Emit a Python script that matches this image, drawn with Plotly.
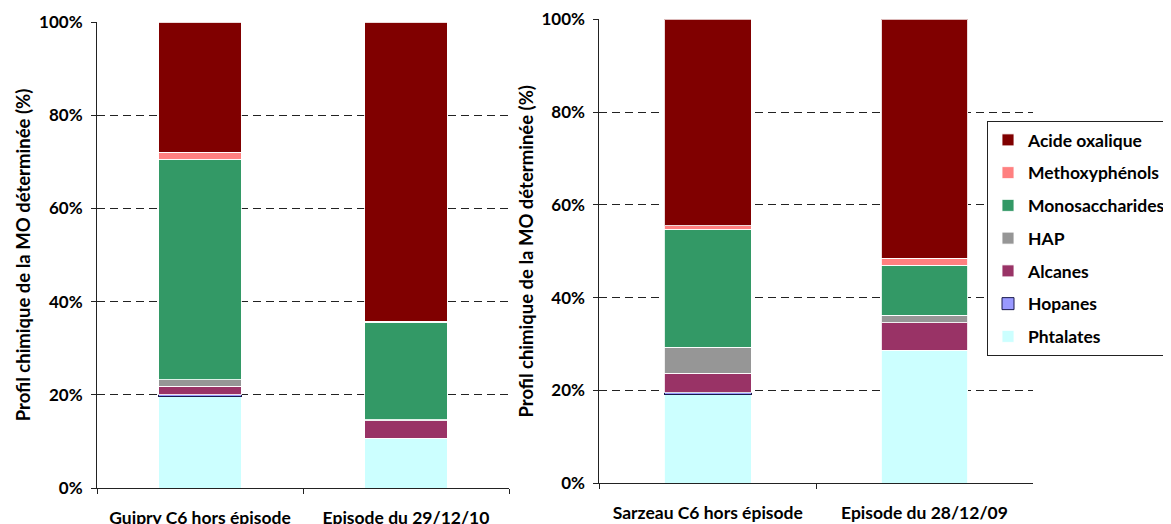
import plotly.graph_objects as go

# catégories (échantillons) de chaque graphique
sites_gauche = ["Guipry C6 hors épisode", "Episode du 29/12/10"]
sites_droite = ["Sarzeau C6 hors épisode", "Episode du 28/12/09"]

# familles de composés (du bas vers le haut de la pile)
familles = ["Phtalates", "Hopanes", "Alcanes", "HAP",
            "Monosaccharides", "Methoxyphénols", "Acide oxalique"]
couleurs = ["#CCFFFF", "#9999FF", "#993366", "#969696",
            "#339966", "#FF8080", "#800000"]

# fractions (Guipry, épisode 29/12/10)
phtalates_g = [0.197, 0.107]
hopanes_g = [0.003, 0.0]
alcanes_g = [0.018, 0.037]
hap_g = [0.014, 0.003]
monosacch_g = [0.473, 0.209]
methoxy_g = [0.015, 0.002]
oxalique_g = [0.280, 0.642]

# fractions (Sarzeau, épisode 28/12/09)
phtalates_d = [0.192, 0.287]
hopanes_d = [0.004, 0.0]
alcanes_d = [0.041, 0.059]
hap_d = [0.056, 0.016]
monosacch_d = [0.254, 0.108]
methoxy_d = [0.008, 0.015]
oxalique_d = [0.445, 0.515]

valeurs_g = [phtalates_g, hopanes_g, alcanes_g, hap_g, monosacch_g, methoxy_g, oxalique_g]
valeurs_d = [phtalates_d, hopanes_d, alcanes_d, hap_d, monosacch_d, methoxy_d, oxalique_d]

W, H = 1171, 524
D = 8  # décalage de la page (marge du body)
police = "Lato"


def px_x(p):
    return (p - D) / W


def px_y(p):
    return (H - (p - D)) / H


fig = go.Figure()

for i, nom in enumerate(familles):
    for sites, vals, xa, ya, leg in [(sites_gauche, valeurs_g, "x", "y", False),
                                     (sites_droite, valeurs_d, "x2", "y2", True)]:
        if nom == "Hopanes":
            bord = dict(color="#1a1a4d", width=[1 if v > 0 else 0 for v in vals[i]])
        else:
            bord = dict(color="rgba(255,255,255,0.85)", width=1)
        fig.add_trace(go.Bar(
            x=sites, y=vals[i], name=nom, marker_color=couleurs[i],
            marker_line=bord, xaxis=xa, yaxis=ya,
            legendgroup=nom, legendrank=len(familles) - i, showlegend=leg))

axe_y = dict(range=[0, 1], tickformat=".0%", dtick=0.2, showgrid=True,
             gridcolor="#222", griddash="8px,5px", gridwidth=1,
             showline=True, linecolor="#222", linewidth=1,
             ticks="outside", ticklen=5, tickcolor="#222", ticklabelstandoff=5,
             tickfont=dict(size=17, color="black"), zeroline=False,
             title=dict(text="Profil chimique de la MO déterminée (%)",
                        font=dict(size=18.5, color="black"), standoff=3))
axe_x = dict(range=[-0.5, 1.5], showline=True, linecolor="#222", linewidth=1,
             ticks="outside", ticklen=5, tickcolor="#222", tickson="boundaries",
             tickfont=dict(size=17.5, color="black"), ticklabelstandoff=14,
             showgrid=False)

fig.update_layout(
    width=W, height=H,
    barmode="stack", bargap=0.6,
    plot_bgcolor="white", paper_bgcolor="white",
    font=dict(family=police, weight="bold", color="black"),
    margin=dict(l=0, r=0, t=0, b=0, autoexpand=False),
    xaxis=dict(axe_x, domain=[px_x(97), px_x(509)], anchor="y"),
    yaxis=dict(axe_y, domain=[px_y(488), px_y(22)], anchor="x"),
    xaxis2=dict(axe_x, domain=[px_x(599.4), px_x(1032.8)], anchor="y2"),
    yaxis2=dict(axe_y, domain=[px_y(483.3), px_y(19.3)], anchor="x2"),
    legend=dict(x=px_x(987), y=px_y(121), xanchor="left", yanchor="top",
                traceorder="grouped", tracegroupgap=7,
                bordercolor="#222", borderwidth=1, bgcolor="white",
                font=dict(size=17.5, color="black")),
    showlegend=True,
)

fig.write_html("out.html")
